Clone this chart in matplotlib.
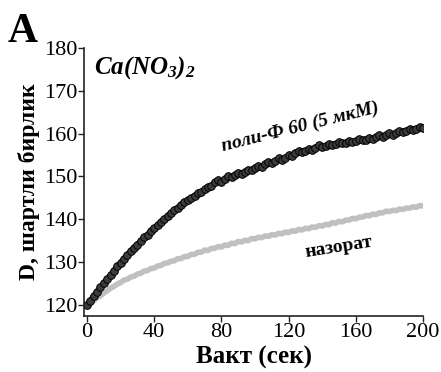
import numpy as np
import matplotlib
matplotlib.use("Agg")
import matplotlib.pyplot as plt

plt.rcParams["font.family"] = "serif"
plt.rcParams["font.serif"] = ["Liberation Serif", "Times New Roman", "DejaVu Serif"]
plt.rcParams["mathtext.fontset"] = "custom"
plt.rcParams["mathtext.rm"] = "serif:bold:italic"
plt.rcParams["mathtext.it"] = "serif:bold:italic"
plt.rcParams["mathtext.bf"] = "serif:bold:italic"

# time axis, seconds (sampled every 2 s)
time_s = np.arange(0, 201, 2)

# poly-F 60 (5 uM) trace
poly_f60 = [
    120.0, 121.0, 122.1, 123.1, 124.1, 125.0, 126.0, 127.0, 128.0, 129.0,
    129.9, 130.8, 131.7, 132.5, 133.4, 134.1, 135.0, 135.8, 136.4, 137.3,
    137.9, 138.6, 139.4, 140.0, 140.8, 141.4, 142.1, 142.6, 143.4, 144.0,
    144.4, 145.0, 145.5, 146.1, 146.4, 147.0, 147.6, 147.8, 148.6, 149.1,
    148.8, 149.4, 150.0, 149.8, 150.3, 150.9, 150.6, 151.1, 151.6, 151.4,
    152.0, 152.5, 152.2, 152.8, 153.4, 153.1, 153.6, 154.2, 153.9, 154.4,
    155.0, 154.8, 155.4, 155.9, 155.6, 155.9, 156.5, 156.2, 156.7, 157.3,
    156.9, 157.1, 157.6, 157.3, 157.5, 158.0, 157.7, 157.9, 158.3, 158.0,
    158.2, 158.7, 158.4, 158.6, 159.0, 158.8, 159.1, 159.6, 159.3, 159.6,
    160.1, 159.8, 160.2, 160.7, 160.4, 160.6, 161.1, 160.8, 161.2, 161.6,
    161.3,
]

# control trace
control = [
    119.8, 120.4, 121.0, 121.7, 122.1, 122.8, 123.3, 123.9, 124.3, 124.9,
    125.2, 125.8, 126.0, 126.5, 126.7, 127.2, 127.4, 127.9, 128.0, 128.5,
    128.6, 129.1, 129.2, 129.7, 129.8, 130.2, 130.3, 130.8, 130.8, 131.3,
    131.3, 131.8, 131.8, 132.3, 132.3, 132.8, 132.7, 133.2, 133.2, 133.6,
    133.5, 134.0, 133.9, 134.4, 134.3, 134.8, 134.7, 135.1, 135.0, 135.5,
    135.4, 135.8, 135.7, 136.1, 136.0, 136.4, 136.3, 136.7, 136.6, 137.0,
    136.9, 137.3, 137.2, 137.6, 137.5, 137.9, 137.8, 138.2, 138.1, 138.5,
    138.4, 138.8, 138.7, 139.2, 139.1, 139.5, 139.4, 139.8, 139.8, 140.2,
    140.1, 140.5, 140.5, 140.9, 140.8, 141.2, 141.1, 141.5, 141.5, 141.9,
    141.8, 142.1, 142.0, 142.4, 142.3, 142.6, 142.6, 142.9, 142.8, 143.2,
    143.1,
]

x_ticks = [0, 40, 80, 120, 160, 200]
y_ticks = [120, 130, 140, 150, 160, 170, 180]

fig = plt.figure(figsize=(4.41, 3.72), dpi=100)
ax = fig.add_axes([0.1905, 0.1505, 0.7687, 0.7204])

ax.plot(time_s, control, color="#c0c0c0", linewidth=4.0, solid_joinstyle="round", zorder=2)
ax.plot(time_s, poly_f60, color="#111111", linewidth=4.0, marker="o", markersize=5.5,
        markerfacecolor="#3c3c3c", markeredgecolor="#000000", markeredgewidth=0.7, zorder=3)

ax.set_xlim(-1.8, 200)
ax.set_ylim(117.4, 180)
ax.set_xticks(x_ticks)
ax.set_yticks(y_ticks)
ax.tick_params(labelsize=16, length=4, width=1.0, direction="out", colors="#222222",
               labelcolor="black", pad=1)
for side in ["top", "right"]:
    ax.spines[side].set_visible(False)
for side in ["left", "bottom"]:
    ax.spines[side].set_linewidth(1.2)
    ax.spines[side].set_color("#222222")

ax.set_xlabel("Вакт (сек)", fontsize=18, fontweight="bold", labelpad=3)
ax.set_ylabel("D, шартли бирлик", fontsize=17, fontweight="bold", labelpad=3)

ax.text(4, 175.5, r"$Ca(NO_3)_2$", fontsize=18, ha="left", va="center")
ax.text(127, 161.5, "поли-Ф 60 (5 мкМ)", fontsize=14, fontweight="bold", style="italic",
        rotation=14, ha="center", va="center", rotation_mode="anchor")
ax.text(150, 133.5, "назорат", fontsize=14, fontweight="bold",
        rotation=9, ha="center", va="center", rotation_mode="anchor")

fig.text(0.018, 0.887, "A", fontsize=30, fontweight="bold", ha="left", va="baseline")

fig.savefig("out.png", dpi=100)
